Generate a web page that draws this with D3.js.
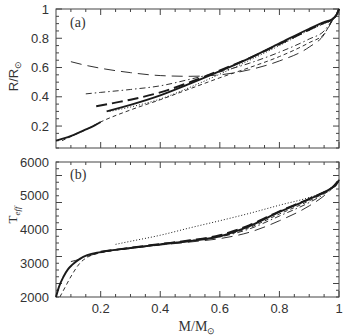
<!DOCTYPE html>
<html>
<head>
<meta charset="utf-8">
<script src="https://cdn.jsdelivr.net/npm/d3@7"></script>
<style>
  body { margin: 0; background: #fff; }
  text { fill: #333; }
</style>
</head>
<body>
<div id="chart"></div>
<script>
// panel (a): radius vs mass
let massA_low = [0.05, 0.07, 0.09, 0.11, 0.13, 0.155, 0.18, 0.2];
let radA_low = [0.10, 0.112, 0.125, 0.14, 0.158, 0.18, 0.205, 0.228];

let massA_main = [0.22, 0.3, 0.4, 0.5, 0.6, 0.7, 0.8, 0.9, 0.95, 0.978, 0.99, 1.0];
let radA_main = [0.30, 0.345, 0.41, 0.49, 0.575, 0.665, 0.765, 0.865, 0.91, 0.932, 0.955, 1.0];

let massA_thickDash = [0.185, 0.25, 0.3, 0.4, 0.5, 0.6, 0.7, 0.8, 0.9, 0.95, 0.978, 0.99, 1.0];
let radA_thickDash = [0.335, 0.36, 0.38, 0.43, 0.50, 0.58, 0.665, 0.76, 0.858, 0.905, 0.93, 0.955, 1.0];

let massA_dotted = [0.23, 0.3, 0.4, 0.5, 0.6, 0.7, 0.8, 0.9, 0.95, 0.978, 0.99, 1.0];
let radA_dotted = [0.30, 0.33, 0.385, 0.465, 0.555, 0.65, 0.75, 0.855, 0.90, 0.927, 0.955, 1.0];

let massA_dashDot = [0.15, 0.2, 0.3, 0.4, 0.5, 0.6, 0.7, 0.8, 0.9, 0.95, 0.978, 0.99, 1.0];
let radA_dashDot = [0.42, 0.43, 0.45, 0.475, 0.52, 0.57, 0.63, 0.705, 0.795, 0.85, 0.925, 0.955, 1.0];

let massA_shortDash = [0.07, 0.1, 0.15, 0.2, 0.3, 0.4, 0.5, 0.6, 0.7, 0.8, 0.9, 0.95, 0.978, 0.99, 1.0];
let radA_shortDash = [0.1, 0.128, 0.175, 0.228, 0.31, 0.38, 0.455, 0.53, 0.60, 0.675, 0.77, 0.83, 0.922, 0.955, 1.0];

let massA_longDash = [0.1, 0.15, 0.2, 0.3, 0.4, 0.5, 0.6, 0.7, 0.8, 0.9, 0.95, 0.965, 0.978, 0.99, 1.0];
let radA_longDash = [0.64, 0.615, 0.595, 0.565, 0.545, 0.54, 0.55, 0.585, 0.645, 0.74, 0.825, 0.875, 0.922, 0.955, 1.0];

// panel (b): effective temperature vs mass
let massB_main = [0.05, 0.06, 0.075, 0.09, 0.105, 0.13, 0.155, 0.2, 0.3, 0.4, 0.5, 0.6, 0.7, 0.8, 0.9, 0.95, 0.975, 0.99, 1.0];
let teffB_main = [2000, 2300, 2600, 2820, 2960, 3130, 3240, 3330, 3450, 3560, 3660, 3800, 4100, 4520, 4900, 5100, 5230, 5320, 5470];

let massB_thickDash = [0.2, 0.3, 0.4, 0.5, 0.6, 0.7, 0.8, 0.9, 0.95, 0.975, 1.0];
let teffB_thickDash = [3340, 3460, 3570, 3680, 3830, 4130, 4540, 4910, 5110, 5230, 5470];

let massB_dotted = [0.25, 0.3, 0.4, 0.5, 0.6, 0.7, 0.8, 0.9, 0.95, 0.975, 1.0];
let teffB_dotted = [3560, 3650, 3830, 4050, 4260, 4480, 4720, 4950, 5110, 5230, 5470];

let massB_longDash = [0.1, 0.13, 0.16, 0.2, 0.3, 0.4, 0.5, 0.6, 0.7, 0.8, 0.9, 0.95, 0.975, 1.0];
let teffB_longDash = [3050, 3120, 3220, 3320, 3440, 3540, 3630, 3730, 3920, 4260, 4700, 5000, 5200, 5470];

let massB_dashDot = [0.3, 0.4, 0.5, 0.6, 0.7, 0.8, 0.9, 0.95, 0.975, 1.0];
let teffB_dashDot = [3450, 3560, 3670, 3780, 4020, 4400, 4800, 5050, 5210, 5470];

let massB_shortDash = [0.063, 0.08, 0.103, 0.13, 0.16, 0.2, 0.3, 0.4, 0.5, 0.6, 0.7, 0.8, 0.9, 0.95, 0.975, 1.0];
let teffB_shortDash = [2000, 2280, 2650, 3000, 3200, 3310, 3440, 3550, 3660, 3790, 4060, 4460, 4850, 5080, 5220, 5470];

// tick labels
let xTicks = [0.2, 0.4, 0.6, 0.8, 1];
let yTicksA = [0.2, 0.4, 0.6, 0.8, 1];
let yTicksB = [2000, 3000, 4000, 5000, 6000];

let svgWidth = 344;
let svgHeight = 335;

let svg = d3.select('#chart').append('svg')
  .attr('width', svgWidth)
  .attr('height', svgHeight);

let x = d3.scaleLinear().domain([0.05, 1]).range([56, 339]);
let yA = d3.scaleLinear().domain([0.05, 1]).range([148, 9]);
let yB = d3.scaleLinear().domain([2000, 6000]).range([297, 162]);

// line styles
let styles = {
  thick: { w: 1.9, dash: null },
  thickDash: { w: 1.9, dash: '11,5' },
  dotted: { w: 1.0, dash: '1,2' },
  dashDot: { w: 0.9, dash: '6,3,1.5,3' },
  shortDash: { w: 0.9, dash: '4,3' },
  longDash: { w: 0.9, dash: '11,6' }
};

function zip(ms, vs) {
  return ms.map((m, i) => [m, vs[i]]);
}

function drawFrame(y, minorY, showXLabels) {
  let x0 = x.range()[0], x1 = x.range()[1];
  let yb = y.range()[0], yt = y.range()[1];
  let g = svg.append('g');

  g.append('rect')
    .attr('x', x0).attr('y', yt)
    .attr('width', x1 - x0).attr('height', yb - yt)
    .attr('fill', 'none').attr('stroke', '#444').attr('stroke-width', 1);

  // x ticks (top and bottom, pointing inward)
  let xt = d3.range(0.1, 1.0001, 0.05);
  xt.forEach(v => {
    let major = Math.abs(Math.round(v * 10) / 10 - v) < 1e-6 && Math.round(v * 10) % 2 === 0;
    let len = major ? 6 : 3;
    g.append('line').attr('x1', x(v)).attr('x2', x(v))
      .attr('y1', yb).attr('y2', yb - len).attr('stroke', '#444');
    g.append('line').attr('x1', x(v)).attr('x2', x(v))
      .attr('y1', yt).attr('y2', yt + len).attr('stroke', '#444');
  });

  // y ticks (left and right, pointing inward)
  let d = y.domain();
  let yt2 = d3.range(Math.ceil(d[0] / minorY) * minorY, d[1] + minorY / 2, minorY);
  yt2.forEach(v => {
    let ratio = v / (minorY * 4);
    let major = Math.abs(ratio - Math.round(ratio)) < 1e-6;
    let len = major ? 6 : 3;
    g.append('line').attr('x1', x0).attr('x2', x0 + len)
      .attr('y1', y(v)).attr('y2', y(v)).attr('stroke', '#444');
    g.append('line').attr('x1', x1).attr('x2', x1 - len)
      .attr('y1', y(v)).attr('y2', y(v)).attr('stroke', '#444');
  });

  if (showXLabels) {
    g.selectAll('.xlab').data(xTicks).enter().append('text')
      .attr('x', d => x(d))
      .attr('y', yb + 16)
      .attr('text-anchor', 'middle')
      .attr('font-family', 'Liberation Sans, Arial, sans-serif')
      .attr('font-size', '13px')
      .text(d => d);
  }
  return g;
}

function drawSeries(y, data, style) {
  let line = d3.line()
    .x(d => x(d[0]))
    .y(d => y(d[1]))
    .curve(d3.curveMonotoneX);
  svg.append('path')
    .datum(data)
    .attr('d', line)
    .attr('fill', 'none')
    .attr('stroke', '#1a1a1a')
    .attr('stroke-width', style.w)
    .attr('stroke-dasharray', style.dash);
}

// panel (a)
drawFrame(yA, 0.05, false);
drawSeries(yA, zip(massA_longDash, radA_longDash), styles.longDash);
drawSeries(yA, zip(massA_dashDot, radA_dashDot), styles.dashDot);
drawSeries(yA, zip(massA_shortDash, radA_shortDash), styles.shortDash);
drawSeries(yA, zip(massA_dotted, radA_dotted), styles.dotted);
drawSeries(yA, zip(massA_thickDash, radA_thickDash), styles.thickDash);
drawSeries(yA, zip(massA_main, radA_main), styles.thick);
drawSeries(yA, zip(massA_low, radA_low), styles.thick);

svg.selectAll('.ylabA').data(yTicksA).enter().append('text')
  .attr('x', 49)
  .attr('y', d => yA(d) + 4.5)
  .attr('text-anchor', 'end')
  .attr('font-family', 'Liberation Sans, Arial, sans-serif')
  .attr('font-size', '13px')
  .text(d => d);

svg.append('text')
  .attr('x', 70).attr('y', 27)
  .attr('font-family', 'Liberation Serif, Times New Roman, serif')
  .attr('font-size', '14px')
  .text('(a)');

let rLabel = svg.append('text')
  .attr('transform', 'translate(18, 76) rotate(-90)')
  .attr('text-anchor', 'middle')
  .attr('font-family', 'Liberation Sans, Arial, sans-serif')
  .attr('font-size', '13px');
rLabel.append('tspan').text('R/R');
rLabel.append('tspan').attr('font-size', '9px').attr('dy', 3).text('⊙');

// panel (b)
drawFrame(yB, 200, true);
drawSeries(yB, zip(massB_longDash, teffB_longDash), styles.longDash);
drawSeries(yB, zip(massB_dashDot, teffB_dashDot), styles.dashDot);
drawSeries(yB, zip(massB_shortDash, teffB_shortDash), styles.shortDash);
drawSeries(yB, zip(massB_dotted, teffB_dotted), styles.dotted);
drawSeries(yB, zip(massB_thickDash, teffB_thickDash), styles.thickDash);
drawSeries(yB, zip(massB_main, teffB_main), styles.thick);

svg.selectAll('.ylabB').data(yTicksB).enter().append('text')
  .attr('x', 49)
  .attr('y', d => yB(d) + 4.5)
  .attr('text-anchor', 'end')
  .attr('font-family', 'Liberation Sans, Arial, sans-serif')
  .attr('font-size', '13px')
  .text(d => d);

svg.append('text')
  .attr('x', 70).attr('y', 179)
  .attr('font-family', 'Liberation Serif, Times New Roman, serif')
  .attr('font-size', '14px')
  .text('(b)');

let tLabel = svg.append('text')
  .attr('transform', 'translate(17, 215) rotate(-90)')
  .attr('text-anchor', 'middle')
  .attr('font-family', 'Liberation Serif, Times New Roman, serif')
  .attr('font-size', '13px');
tLabel.append('tspan').text('T');
tLabel.append('tspan').attr('font-size', '9px').attr('font-style', 'italic').attr('dy', 3).text('eff');

// x axis title
let mLabel = svg.append('text')
  .attr('x', 197).attr('y', 331)
  .attr('text-anchor', 'middle')
  .attr('font-family', 'Liberation Serif, Times New Roman, serif')
  .attr('font-size', '14px');
mLabel.append('tspan').text('M/M');
mLabel.append('tspan').attr('font-size', '9px').attr('dy', 3).text('⊙');
</script>
</body>
</html>
